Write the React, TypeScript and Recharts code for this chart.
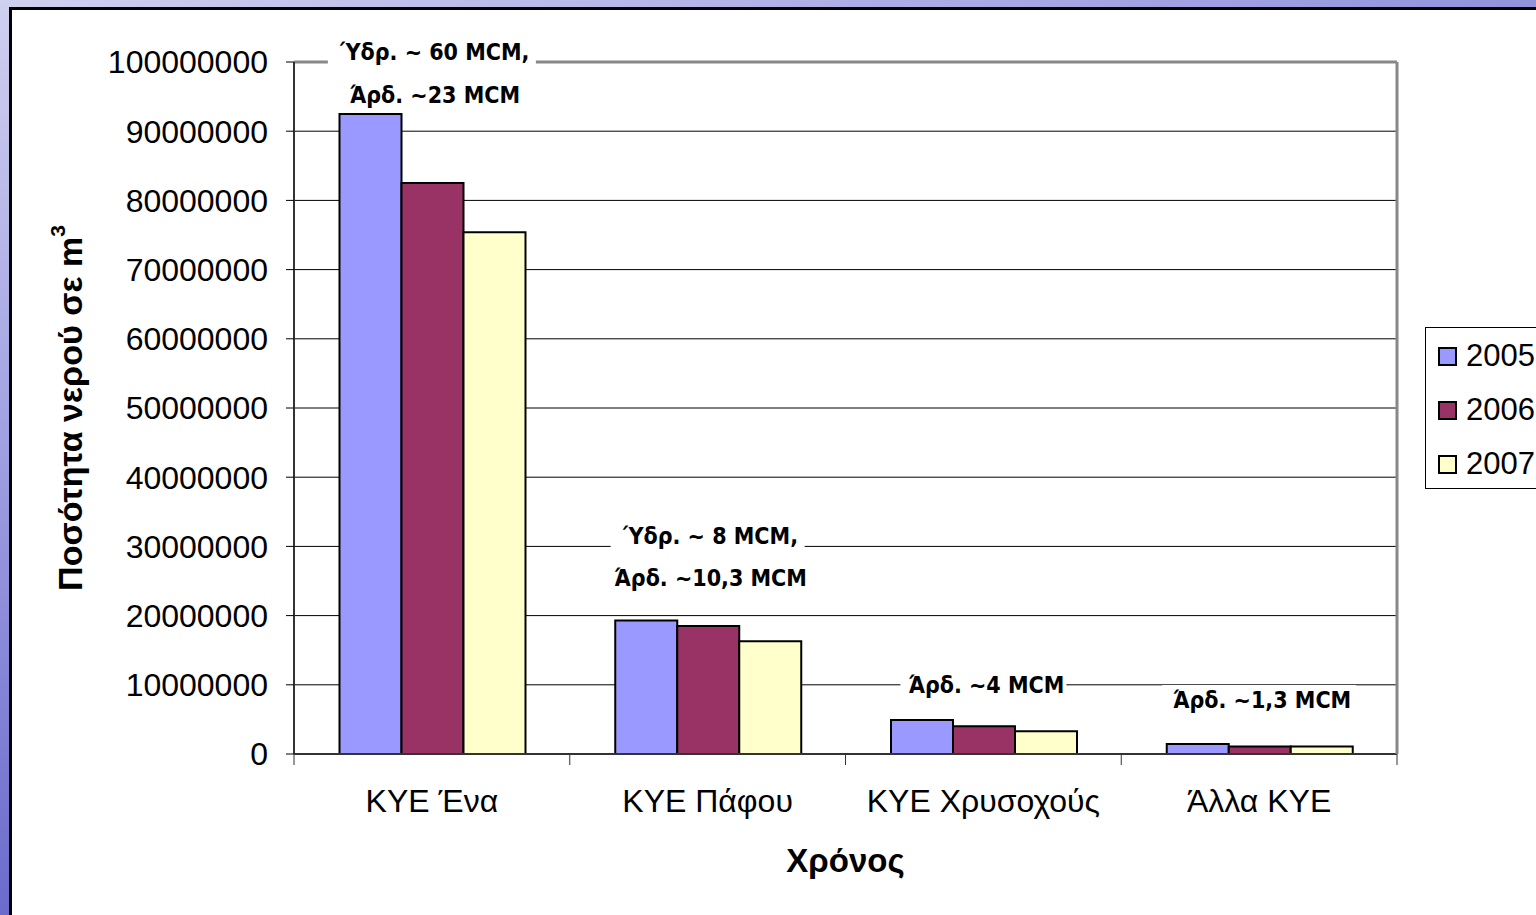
import React from 'react';
import { BarChart, Bar, XAxis, YAxis, CartesianGrid, Legend, ReferenceDot } from 'recharts';

// categories and yearly values (m3)
const categories = ['ΚΥΕ Ένα', 'ΚΥΕ Πάφου', 'ΚΥΕ Χρυσοχούς', 'Άλλα ΚΥΕ'];
const years = ['2005', '2006', '2007'];
const values2005 = [92500000, 19300000, 4900000, 1450000];
const values2006 = [82500000, 18500000, 4000000, 1100000];
const values2007 = [75400000, 16300000, 3300000, 1100000];
const yTicks = [0, 10000000, 20000000, 30000000, 40000000, 50000000, 60000000, 70000000, 80000000, 90000000, 100000000];

// notes written above the groups
const noteCategories = ['ΚΥΕ Ένα', 'ΚΥΕ Ένα', 'ΚΥΕ Πάφου', 'ΚΥΕ Πάφου', 'ΚΥΕ Χρυσοχούς', 'Άλλα ΚΥΕ'];
const noteLevels = [101400000, 95200000, 31500000, 25400000, 10000000, 7800000];
const noteTexts = ['Ύδρ. ~ 60 MCM,', 'Άρδ. ~23 MCM', 'Ύδρ. ~ 8 MCM,', 'Άρδ. ~10,3 MCM', 'Άρδ. ~4 MCM', 'Άρδ. ~1,3 MCM'];

const colors = ['#9999FF', '#993366', '#FFFFCC'];

const data = categories.map((name, i) => ({
  name,
  '2005': values2005[i],
  '2006': values2006[i],
  '2007': values2007[i],
}));

const noteFont = '"DejaVu Sans Condensed", "DejaVu Sans", sans-serif';
const axisFont = '"Liberation Sans", Arial, sans-serif';
const TICK_GAP = 35;

const NoteShape = (text: string) => (props: any) => {
  const { cx, cy } = props;
  const w = text.length * 14 + 12;
  return (
    <g>
      <rect x={cx - w / 2} y={cy - 15} width={w} height={30} fill="#FFF" />
      <text x={cx + 3} y={cy} textAnchor="middle" dominantBaseline="central" fontFamily={noteFont} fontWeight="bold" fontSize={23} fill="#000">
        {text}
      </text>
    </g>
  );
};

// category label plus the small tick marks at the group boundaries
const CategoryTick = (props: any) => {
  const { x, y, width, visibleTicksCount, index, payload } = props;
  const half = width / visibleTicksCount / 2;
  const axisY = y - TICK_GAP;
  const isLast = index === visibleTicksCount - 1;
  return (
    <g>
      <line x1={x - half} x2={x - half} y1={axisY} y2={axisY + 11} stroke="#333" strokeWidth={1} />
      {isLast && <line x1={x + half} x2={x + half} y1={axisY} y2={axisY + 11} stroke="#333" strokeWidth={1} />}
      <text x={x} y={y} dy="0.71em" textAnchor="middle" fontFamily={axisFont} fontSize={32} fill="#000">
        {payload.value}
      </text>
    </g>
  );
};

const YTitle = (props: any) => {
  const { viewBox } = props;
  const cx = 70;
  const cy = viewBox.y + viewBox.height / 2;
  return (
    <text transform={`translate(${cx},${cy}) rotate(-90)`} textAnchor="middle" dominantBaseline="central" fontFamily={axisFont} fontWeight="bold" fontSize={34} fill="#000">
      Ποσότητα νερού σε m<tspan fontSize={21} dy={-13}>3</tspan>
    </text>
  );
};

const LegendBox = () => (
  <div style={{ background: '#FFF', border: '1px solid #000', width: 140, height: 162, boxSizing: 'border-box', padding: '1px 0 0 12px', fontFamily: axisFont }}>
    {years.map((y, i) => (
      <div key={y} style={{ display: 'flex', alignItems: 'center', height: 54 }}>
        <span style={{ display: 'inline-block', width: 15, height: 15, background: colors[i], border: '2px solid #000', marginRight: 9 }} />
        <span style={{ fontSize: 31, color: '#000' }}>{y}</span>
      </div>
    ))}
  </div>
);

const NoTick = () => <g />;

export default function App() {
  return (
    <div style={{ position: 'fixed', left: 0, top: 0, width: 1536, height: 915, overflow: 'hidden', background: 'linear-gradient(160deg, #d0d0f0 0%, #a0a0e2 30%, #6e6ece 60%, #4444b4 100%)' }}>
      <div style={{ position: 'absolute', left: 9, top: 7, width: 1560, height: 940, background: '#FFF', borderLeft: '3px solid #000', borderTop: '3px solid #000', boxSizing: 'border-box' }} />
      <div style={{ position: 'absolute', left: 0, top: 0 }}>
        <BarChart width={1536} height={915} data={data} margin={{ top: 61, right: 138, bottom: 31, left: 0 }} barCategoryGap="16.5%" barGap={0}>
          <CartesianGrid horizontal vertical={false} stroke="#000" strokeWidth={1} />
          <XAxis dataKey="name" height={130} axisLine={{ stroke: '#333', strokeWidth: 2 }} tickLine={false} tickSize={0} tickMargin={TICK_GAP} interval={0}
            tick={CategoryTick}
            label={{ value: 'Χρόνος', position: 'insideBottom', offset: 12, fontFamily: axisFont, fontWeight: 'bold', fontSize: 33, fill: '#000' }} />
          <XAxis xAxisId="top" orientation="top" type="number" domain={[0, 4]} allowDataOverflow height={1} tick={NoTick} tickLine={false} axisLine={{ stroke: '#888', strokeWidth: 3 }} />
          <YAxis width={294} domain={[0, 100000000]} ticks={yTicks} interval={0} tickSize={8} tickMargin={18}
            tickFormatter={(v: number) => String(v)}
            axisLine={{ stroke: '#333', strokeWidth: 2 }} tickLine={{ stroke: '#000' }}
            tick={{ fontFamily: axisFont, fontSize: 32, fill: '#000' }}
            label={{ content: YTitle }} />
          <YAxis yAxisId="right" orientation="right" width={1} tick={NoTick} tickLine={false} axisLine={{ stroke: '#888', strokeWidth: 3 }} />
          <Legend layout="vertical" align="center" verticalAlign="middle" content={LegendBox} wrapperStyle={{ position: 'absolute', left: 1425, top: 327, width: 140 }} />
          {years.map((y, i) => (
            <Bar key={y} dataKey={y} fill={colors[i]} stroke="#000" strokeWidth={2} isAnimationActive={false} />
          ))}
          {noteTexts.map((t, i) => (
            <ReferenceDot key={i} x={noteCategories[i]} y={noteLevels[i]} r={0} ifOverflow="visible" shape={NoteShape(t)} />
          ))}
        </BarChart>
      </div>
    </div>
  );
}
